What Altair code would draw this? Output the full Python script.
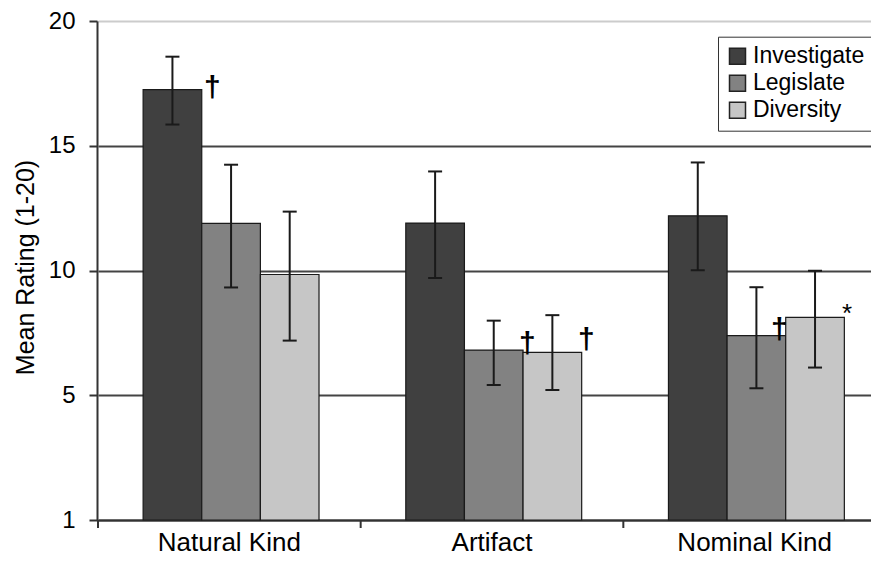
import altair as alt
import pandas as pd

FONT = "Liberation Sans"

categories = ["Natural Kind", "Artifact", "Nominal Kind"]
series = ["Investigate", "Legislate", "Diversity"]
colors = ["#404040", "#828282", "#c6c6c6"]

investigate_mean = [17.25, 11.90, 12.19]
investigate_lo = [15.85, 9.70, 10.01]
investigate_hi = [18.57, 13.97, 14.33]

legislate_mean = [11.89, 6.81, 7.39]
legislate_lo = [9.32, 5.41, 5.28]
legislate_hi = [14.24, 7.99, 9.33]

diversity_mean = [9.84, 6.72, 8.12]
diversity_lo = [7.19, 5.21, 6.11]
diversity_hi = [12.36, 8.21, 9.99]

y_ticks = [0, 5, 10, 15, 20]
y_tick_labels = ["1", "5", "10", "15", "20"]

ann_category = ["Natural Kind", "Artifact", "Artifact", "Nominal Kind", "Nominal Kind"]
ann_series = ["Investigate", "Legislate", "Diversity", "Legislate", "Diversity"]
ann_symbol = ["\u2020", "\u2020", "\u2020", "\u2020", "*"]

# styling for annotations: (dx, dy, fontSize, fontWeight)
ann_style = [
    (40, -2, 30, "bold"),
    (33.5, -6, 30, "bold"),
    (34, -12, 30, "bold"),
    (23, -6, 30, "bold"),
    (32, -3, 26, "normal"),
]

means = {"Investigate": investigate_mean, "Legislate": legislate_mean, "Diversity": diversity_mean}
los = {"Investigate": investigate_lo, "Legislate": legislate_lo, "Diversity": diversity_lo}
his = {"Investigate": investigate_hi, "Legislate": legislate_hi, "Diversity": diversity_hi}

rows = []
for s in series:
    for i, c in enumerate(categories):
        rows.append({"category": c, "series": s, "mean": means[s][i], "lo": los[s][i], "hi": his[s][i]})
df = pd.DataFrame(rows)

ann_df = pd.DataFrame({"category": ann_category, "series": ann_series, "symbol": ann_symbol})
ann_df = ann_df.merge(df[["category", "series", "mean"]], on=["category", "series"], how="left")

cat_df = pd.DataFrame({"category": categories})

label_expr = "''"
for v, lab in zip(reversed(y_ticks), reversed(y_tick_labels)):
    label_expr = f"datum.value == {v} ? '{lab}' : ({label_expr})"

x_enc = alt.X(
    "category:N",
    sort=categories,
    scale=alt.Scale(range=[1, 789], paddingInner=0, paddingOuter=0),
    axis=alt.Axis(
        title=None, labelAngle=0, ticks=False, tickSize=0, labelFontSize=26,
        labelPadding=9, labelColor="#000000", labelFont=FONT,
        domainColor="#333333", domainWidth=2,
    ),
)
xo_enc = alt.XOffset(
    "series:N", sort=series,
    scale=alt.Scale(paddingInner=0, paddingOuter=0.74, align=0.52),
)

y_scale = alt.Scale(domain=[0, 20], nice=False)

bars = alt.Chart(df).mark_bar(stroke="#1a1a1a", strokeWidth=1.2).encode(
    x=x_enc,
    xOffset=xo_enc,
    y=alt.Y(
        "mean:Q",
        scale=y_scale,
        axis=alt.Axis(
            values=y_ticks, labelExpr=label_expr, title="Mean Rating (1-20)",
            labelFontSize=24, labelPadding=14, labelColor="#000000", labelFont=FONT,
            tickSize=8, tickWidth=2, tickColor="#333333",
            domainColor="#333333", domainWidth=2,
            grid=True, gridWidth=2,
            gridColor={"condition": {"test": "datum.value == 20", "value": "#cccccc"}, "value": "#444444"},
            titleFontSize=25, titleFontWeight="normal", titleColor="#000000", titleFont=FONT,
            titleAngle=-90, titleX=-64, titleY=246, titleAlign="center", titleBaseline="alphabetic",
        ),
    ),
    color=alt.Color(
        "series:N",
        sort=series,
        scale=alt.Scale(domain=series, range=colors),
        legend=alt.Legend(
            title=None, orient="none", legendX=621, legendY=15.7, direction="vertical",
            symbolType="square", symbolSize=256, symbolStrokeColor="#222222", symbolStrokeWidth=1.5,
            symbolOpacity=1,
            labelFontSize=23, labelFont=FONT, labelColor="#000000", labelOffset=4,
            padding=8, rowPadding=3, strokeColor="#333333", fillColor="#ffffff",
        ),
    ),
)

whisk = alt.Chart(df).mark_rule(color="#1a1a1a", strokeWidth=2).encode(
    x=x_enc, xOffset=xo_enc, y=alt.Y("lo:Q", scale=y_scale), y2="hi:Q"
)
cap_lo = alt.Chart(df).mark_tick(orient="horizontal", size=14, thickness=2, color="#1a1a1a", opacity=1).encode(
    x=x_enc, xOffset=xo_enc, y=alt.Y("lo:Q", scale=y_scale)
)
cap_hi = alt.Chart(df).mark_tick(orient="horizontal", size=14, thickness=2, color="#1a1a1a", opacity=1).encode(
    x=x_enc, xOffset=xo_enc, y=alt.Y("hi:Q", scale=y_scale)
)

seps = alt.Chart(cat_df).mark_rule(color="#333333", strokeWidth=2).encode(
    x=alt.X("category:N", sort=categories, bandPosition=0),
    y=alt.value(499),
    y2=alt.value(507),
)

ann_layers = []
for i in range(len(ann_df)):
    dx, dy, fs, fw = ann_style[i]
    ann_layers.append(
        alt.Chart(ann_df.iloc[[i]]).mark_text(
            dx=dx, dy=dy, fontSize=fs, fontWeight=fw, font=FONT, color="#000000",
            align="center", baseline="middle",
        ).encode(x=x_enc, xOffset=xo_enc, y=alt.Y("mean:Q", scale=y_scale), text="symbol:N")
    )

chart = alt.layer(bars, whisk, cap_lo, cap_hi, seps, *ann_layers).properties(
    width=774,
    height=499,
    autosize=alt.AutoSizeParams(type="none"),
    padding={"left": 89, "top": 13, "right": 0, "bottom": 36},
).configure_view(stroke=None).configure(font=FONT)

chart.save("out.html", embed_options={"renderer": "svg", "actions": False})
